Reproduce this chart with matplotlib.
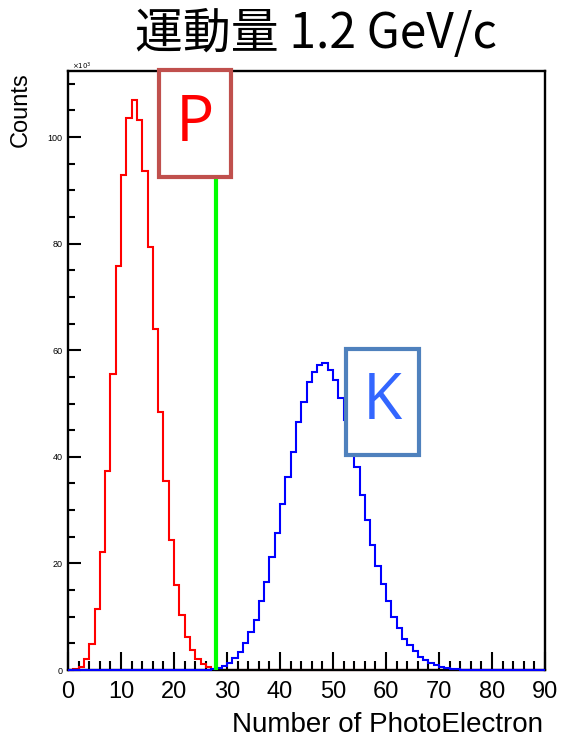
import numpy as np
import matplotlib
matplotlib.use('Agg')
from matplotlib import pyplot as plt
from matplotlib.patches import Rectangle

# Histogram contents in units of 10^3 counts, 1 p.e. wide bins.
red_first_bin = 1
red_counts = [0.1, 0.5, 2.0, 4.8, 11.4, 22.2, 37.3, 55.6, 75.8, 92.9, 103.5, 107.0,
              103.2, 93.7, 79.4, 63.9, 48.4, 35.5, 24.4, 15.9, 10.3, 6.2, 3.8, 2.1,
              1.2, 0.5, 0.2]
blue_first_bin = 27
blue_counts = [0.1, 0.3, 0.7, 1.4, 2.3, 3.4, 5.1, 7.1, 9.4, 12.9, 16.6, 21.2, 25.8,
               31.1, 36.2, 41.0, 46.6, 50.3, 54.1, 55.9, 57.2, 57.6, 56.3, 54.4, 51.0,
               46.9, 43.0, 38.1, 32.9, 28.2, 23.5, 19.6, 16.1, 12.9, 9.9, 7.9, 5.9,
               4.6, 3.5, 2.4, 1.8, 1.3, 0.85, 0.5, 0.3, 0.15, 0.1, 0.05]
cut_value = 28
x_ticks = [0, 10, 20, 30, 40, 50, 60, 70, 80, 90]
y_ticks = [0, 20, 40, 60, 80, 100]
title = '運動量 1.2 GeV/c'

edges = np.arange(0, 91)
red_h = np.zeros(90)
red_h[red_first_bin:red_first_bin + len(red_counts)] = red_counts
blue_h = np.zeros(90)
blue_h[blue_first_bin:blue_first_bin + len(blue_counts)] = blue_counts

W, H = 562, 740
fig = plt.figure(figsize=(W / 100, H / 100), dpi=100)
ax = fig.add_axes([68 / W, 1 - 670 / H, (545 - 68) / W, (670 - 71) / H])

# red sits under the frame, blue over it (as in the original ROOT canvas)
ax.stairs(red_h, edges, color='#ff0000', lw=1.5, zorder=2, clip_on=False)
ax.stairs(blue_h, edges, color='#0000ff', lw=1.5, zorder=3.1, clip_on=False)
ax.axvline(cut_value, color='#00ff00', lw=3, zorder=3.2)

ax.set_xlim(0, 90)
ax.set_ylim(0, 112.4)
ax.set_xticks(x_ticks)
ax.set_xticks(np.arange(0, 91, 2), minor=True)
ax.set_yticks(y_ticks)
ax.set_yticks(np.arange(0, 112, 5), minor=True)
ax.set_xticklabels([str(t) for t in x_ticks], fontsize=17, family='Liberation Sans')
ax.set_yticklabels([str(t) for t in y_ticks], fontsize=6.5, family='Liberation Sans')
ax.tick_params(axis='x', which='major', direction='in', length=13, width=1.5, pad=8)
ax.tick_params(axis='x', which='minor', direction='in', length=6.5, width=1.5)
ax.tick_params(axis='y', which='major', direction='in', length=9.5, width=1.5, pad=4)
ax.tick_params(axis='y', which='minor', direction='in', length=5, width=1.5)
for s in ax.spines.values():
    s.set_linewidth(1.7)

# Labels
fig.text(543 / W, 1 - 725 / H, 'Number of PhotoElectron', ha='right', va='center',
         fontsize=20, family='Liberation Sans')
fig.text(21 / W, 1 - 110 / H, 'Counts', rotation=90, ha='center', va='center',
         fontsize=17, family='Liberation Sans')
fig.text(72 / W, 1 - 66 / H, r'$\times10^{3}$', ha='left', va='center', fontsize=5,
         family='Liberation Sans')
fig.text(316 / W, 1 - 34 / H, title, ha='center', va='center', fontsize=34.5,
         family=['Noto Sans CJK JP', 'DejaVu Sans'])

# Particle boxes
def label_box(x0, y0, x1, y1, edge, text, tcolor):
    fig.patches.append(Rectangle((x0 / W, 1 - y1 / H), (x1 - x0) / W, (y1 - y0) / H,
                                 transform=fig.transFigure, facecolor='white',
                                 edgecolor=edge, lw=3, zorder=5))
    fig.text((x0 + x1) / 2 / W, 1 - (y0 + y1) / 2 / H, text, ha='center', va='center',
             color=tcolor, fontsize=46, family='Open Sans', zorder=6)

label_box(158.7, 70.3, 231.3, 177, '#c0504d', 'P', '#ff0000')
label_box(346.3, 348.7, 419, 455.3, '#4f81bd', 'K', '#3366ff')

fig.savefig('out.png', dpi=100)
